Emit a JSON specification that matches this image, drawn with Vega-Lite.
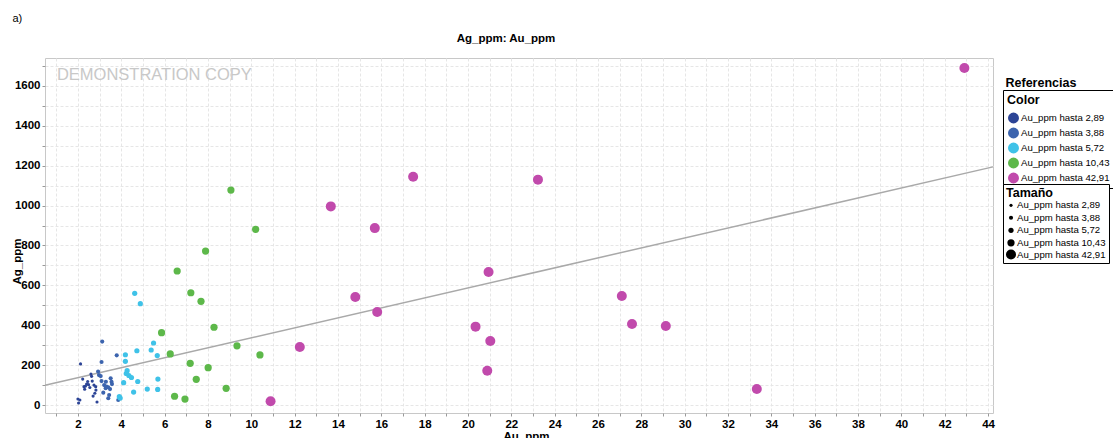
{
  "$schema": "https://vega.github.io/schema/vega-lite/v6.json",
  "width": 948,
  "height": 355,
  "autosize": "none",
  "padding": {"left": 45, "top": 58, "right": 120, "bottom": 25},
  "background": "white",
  "title": {"text": "Ag_ppm: Au_ppm", "font": "Liberation Sans", "fontSize": 11.5, "fontWeight": "bold", "color": "black", "anchor": "middle", "offset": 14, "dy": 46, "dx": -13},
  "datasets": {
    "pts": [
      {"Au": 2.12, "Ag": 206, "clase": "2,89"},
      {"Au": 2.22, "Ag": 130, "clase": "2,89"},
      {"Au": 2.63, "Ag": 144, "clase": "2,89"},
      {"Au": 2.60, "Ag": 155, "clase": "2,89"},
      {"Au": 2.40, "Ag": 105, "clase": "2,89"},
      {"Au": 2.49, "Ag": 102, "clase": "2,89"},
      {"Au": 2.28, "Ag": 92, "clase": "2,89"},
      {"Au": 2.31, "Ag": 79, "clase": "2,89"},
      {"Au": 2.74, "Ag": 100, "clase": "2,89"},
      {"Au": 2.82, "Ag": 92, "clase": "2,89"},
      {"Au": 2.83, "Ag": 75, "clase": "2,89"},
      {"Au": 2.78, "Ag": 59, "clase": "2,89"},
      {"Au": 2.00, "Ag": 30, "clase": "2,89"},
      {"Au": 2.03, "Ag": 10, "clase": "2,89"},
      {"Au": 2.09, "Ag": 25, "clase": "2,89"},
      {"Au": 2.88, "Ag": 15, "clase": "2,89"},
      {"Au": 2.35, "Ag": 95, "clase": "2,89"},
      {"Au": 2.55, "Ag": 88, "clase": "2,89"},
      {"Au": 2.66, "Ag": 120, "clase": "2,89"},
      {"Au": 2.45, "Ag": 118, "clase": "2,89"},
      {"Au": 2.70, "Ag": 45, "clase": "2,89"},
      {"Au": 3.12, "Ag": 318, "clase": "3,88"},
      {"Au": 3.09, "Ag": 216, "clase": "3,88"},
      {"Au": 3.79, "Ag": 249, "clase": "3,88"},
      {"Au": 2.93, "Ag": 168, "clase": "3,88"},
      {"Au": 2.97, "Ag": 150, "clase": "3,88"},
      {"Au": 3.09, "Ag": 120, "clase": "3,88"},
      {"Au": 3.21, "Ag": 100, "clase": "3,88"},
      {"Au": 3.29, "Ag": 117, "clase": "3,88"},
      {"Au": 3.32, "Ag": 92, "clase": "3,88"},
      {"Au": 3.51, "Ag": 134, "clase": "3,88"},
      {"Au": 3.55, "Ag": 117, "clase": "3,88"},
      {"Au": 3.57, "Ag": 105, "clase": "3,88"},
      {"Au": 3.17, "Ag": 62, "clase": "3,88"},
      {"Au": 3.48, "Ag": 80, "clase": "3,88"},
      {"Au": 3.40, "Ag": 34, "clase": "3,88"},
      {"Au": 3.86, "Ag": 25, "clase": "3,88"},
      {"Au": 3.40, "Ag": 89, "clase": "3,88"},
      {"Au": 3.44, "Ag": 50, "clase": "3,88"},
      {"Au": 3.28, "Ag": 84, "clase": "3,88"},
      {"Au": 3.05, "Ag": 145, "clase": "3,88"},
      {"Au": 4.62, "Ag": 560, "clase": "5,72"},
      {"Au": 4.88, "Ag": 508, "clase": "5,72"},
      {"Au": 5.49, "Ag": 311, "clase": "5,72"},
      {"Au": 4.72, "Ag": 272, "clase": "5,72"},
      {"Au": 5.38, "Ag": 276, "clase": "5,72"},
      {"Au": 5.66, "Ag": 248, "clase": "5,72"},
      {"Au": 4.19, "Ag": 252, "clase": "5,72"},
      {"Au": 4.19, "Ag": 219, "clase": "5,72"},
      {"Au": 4.27, "Ag": 172, "clase": "5,72"},
      {"Au": 4.23, "Ag": 158, "clase": "5,72"},
      {"Au": 4.11, "Ag": 112, "clase": "5,72"},
      {"Au": 4.47, "Ag": 138, "clase": "5,72"},
      {"Au": 4.76, "Ag": 118, "clase": "5,72"},
      {"Au": 5.20, "Ag": 80, "clase": "5,72"},
      {"Au": 4.57, "Ag": 65, "clase": "5,72"},
      {"Au": 5.69, "Ag": 130, "clase": "5,72"},
      {"Au": 5.68, "Ag": 78, "clase": "5,72"},
      {"Au": 3.91, "Ag": 42, "clase": "5,72"},
      {"Au": 4.35, "Ag": 148, "clase": "5,72"},
      {"Au": 3.95, "Ag": 35, "clase": "5,72"},
      {"Au": 5.86, "Ag": 363, "clase": "10,43"},
      {"Au": 6.26, "Ag": 256, "clase": "10,43"},
      {"Au": 6.58, "Ag": 672, "clase": "10,43"},
      {"Au": 7.89, "Ag": 772, "clase": "10,43"},
      {"Au": 7.21, "Ag": 563, "clase": "10,43"},
      {"Au": 7.68, "Ag": 520, "clase": "10,43"},
      {"Au": 8.28, "Ag": 390, "clase": "10,43"},
      {"Au": 9.34, "Ag": 297, "clase": "10,43"},
      {"Au": 10.40, "Ag": 251, "clase": "10,43"},
      {"Au": 7.18, "Ag": 209, "clase": "10,43"},
      {"Au": 8.01, "Ag": 187, "clase": "10,43"},
      {"Au": 7.46, "Ag": 129, "clase": "10,43"},
      {"Au": 8.84, "Ag": 84, "clase": "10,43"},
      {"Au": 6.46, "Ag": 44, "clase": "10,43"},
      {"Au": 6.94, "Ag": 30, "clase": "10,43"},
      {"Au": 9.06, "Ag": 1078, "clase": "10,43"},
      {"Au": 10.20, "Ag": 881, "clase": "10,43"},
      {"Au": 10.89, "Ag": 19, "clase": "42,91"},
      {"Au": 12.24, "Ag": 291, "clase": "42,91"},
      {"Au": 13.67, "Ag": 996, "clase": "42,91"},
      {"Au": 14.80, "Ag": 542, "clase": "42,91"},
      {"Au": 15.70, "Ag": 887, "clase": "42,91"},
      {"Au": 15.81, "Ag": 466, "clase": "42,91"},
      {"Au": 17.47, "Ag": 1145, "clase": "42,91"},
      {"Au": 23.23, "Ag": 1130, "clase": "42,91"},
      {"Au": 20.95, "Ag": 667, "clase": "42,91"},
      {"Au": 20.35, "Ag": 393, "clase": "42,91"},
      {"Au": 21.03, "Ag": 321, "clase": "42,91"},
      {"Au": 20.89, "Ag": 172, "clase": "42,91"},
      {"Au": 27.10, "Ag": 547, "clase": "42,91"},
      {"Au": 27.57, "Ag": 406, "clase": "42,91"},
      {"Au": 29.13, "Ag": 396, "clase": "42,91"},
      {"Au": 33.33, "Ag": 80, "clase": "42,91"},
      {"Au": 42.91, "Ag": 1690, "clase": "42,91"}
    ],
    "trend": [
      {"Au": 0.48, "Ag": 98.8},
      {"Au": 44.23, "Ag": 1194}
    ]
  },
  "layer": [
    {
      "data": {"values": [{}]},
      "mark": {"type": "text", "text": "DEMONSTRATION COPY", "align": "left", "baseline": "middle", "font": "Liberation Sans", "fontSize": 16.5, "color": "#c8c8c8"},
      "encoding": {
        "x": {"datum": 1.03, "type": "quantitative", "scale": {"domain": [0.48, 44.23], "nice": false, "zero": false}, "axis": null},
        "y": {"datum": 1655, "type": "quantitative", "scale": {"domain": [-40, 1740], "nice": false, "zero": false}, "axis": null}
      }
    },
    {
      "data": {"name": "trend"},
      "mark": {"type": "line", "color": "#a9a9a9", "strokeWidth": 1.5},
      "encoding": {
        "x": {"field": "Au", "type": "quantitative", "axis": {"orient": "top", "title": "a)", "labels": false, "ticks": false, "domain": false, "grid": false, "titleX": -33, "titleY": -40, "titleAlign": "left", "titleBaseline": "middle", "titleFontWeight": "normal", "titleFontSize": 11, "titleFont": "Liberation Sans", "titleColor": "black"}},
        "y": {"field": "Ag", "type": "quantitative", "axis": {"orient": "right", "title": "Referencias", "labels": false, "ticks": false, "domain": false, "grid": false, "titleAngle": 0, "titleX": 12, "titleY": 24, "titleAlign": "left", "titleBaseline": "middle", "titleFontWeight": "bold", "titleFontSize": 12.5, "titleFont": "Liberation Sans", "titleColor": "black"}}
      }
    },
    {
      "data": {"name": "pts"},
      "mark": {"type": "point", "filled": true, "opacity": 1, "strokeWidth": 0},
      "encoding": {
        "x": {"field": "Au", "type": "quantitative", "axis": {
          "title": "Au_ppm", "values": [1,2,3,4,5,6,7,8,9,10,11,12,13,14,15,16,17,18,19,20,21,22,23,24,25,26,27,28,29,30,31,32,33,34,35,36,37,38,39,40,41,42,43,44],
          "labelExpr": "datum.value % 2 === 0 ? datum.label : ''",
          "format": "d",
          "labelFont": "Liberation Sans", "labelFontSize": 11.5, "labelFontWeight": "bold", "labelColor": "black",
          "labelPadding": 2, "tickSize": 3, "tickColor": "#999", "domain": false,
          "grid": true, "gridColor": "#e6e6e6", "gridDash": [3, 2],
          "titleFont": "Liberation Sans", "titleFontSize": 11.5, "titleFontWeight": "bold", "titleColor": "black", "titlePadding": 1, "titleX": 481
        }},
        "y": {"field": "Ag", "type": "quantitative", "axis": {
          "title": "Ag_ppm", "values": [0,100,200,300,400,500,600,700,800,900,1000,1100,1200,1300,1400,1500,1600,1700],
          "labelExpr": "datum.value % 200 === 0 ? datum.label : ''",
          "format": "d",
          "labelFont": "Liberation Sans", "labelFontSize": 11.5, "labelFontWeight": "bold", "labelColor": "black",
          "labelPadding": 2, "tickSize": 3, "tickColor": "#999", "domain": false,
          "grid": true, "gridColor": "#e6e6e6", "gridDash": [3, 2],
          "titleFont": "Liberation Sans", "titleFontSize": 11.5, "titleFontWeight": "bold", "titleColor": "black",
          "titleX": -28, "titleY": 203, "titleBaseline": "middle", "titleAlign": "center"
        }},
        "color": {"field": "clase", "type": "nominal",
          "scale": {"domain": ["2,89", "3,88", "5,72", "10,43", "42,91"], "range": ["#2c4496", "#3c64ae", "#3fc2e8", "#5db84a", "#c14aac"]},
          "legend": {"title": "Color", "orient": "none", "legendX": 958, "legendY": 32,
            "strokeColor": "black", "fillColor": "white", "padding": 4,
            "labelExpr": "'Au_ppm hasta ' + datum.label",
            "symbolSize": 120, "symbolType": "circle", "rowPadding": 3, "titlePadding": 5, "labelOffset": 1,
            "labelFont": "Liberation Sans", "labelFontSize": 9.6, "labelColor": "black", "labelLimit": 200,
            "titleFont": "Liberation Sans", "titleFontSize": 12.5, "titleFontWeight": "bold", "titleColor": "black"}
        },
        "size": {"field": "Au", "type": "quantitative",
          "scale": {"type": "threshold", "domain": [2.89, 3.88, 5.72, 10.43], "range": [10, 17, 27, 52, 100]},
          "legend": {"title": "Tamaño", "orient": "none", "legendX": 958, "legendY": 126,
            "strokeColor": "black", "fillColor": "white", "padding": 3,
            "labelExpr": "['Au_ppm hasta 2,89','Au_ppm hasta 3,88','Au_ppm hasta 5,72','Au_ppm hasta 10,43','Au_ppm hasta 42,91'][datum.index]",
            "symbolFillColor": "black", "symbolStrokeWidth": 0, "symbolType": "circle", "rowPadding": 1.5, "titlePadding": 1, "labelOffset": 1,
            "labelFont": "Liberation Sans", "labelFontSize": 9.6, "labelColor": "black", "labelLimit": 200,
            "titleFont": "Liberation Sans", "titleFontSize": 12.5, "titleFontWeight": "bold", "titleColor": "black"}
        }
      }
    }
  ],
  "resolve": {"axis": {"x": "independent", "y": "independent"}},
  "config": {
    "view": {"stroke": "#c8c8c8"},
    "font": "Liberation Sans"
  }
}
